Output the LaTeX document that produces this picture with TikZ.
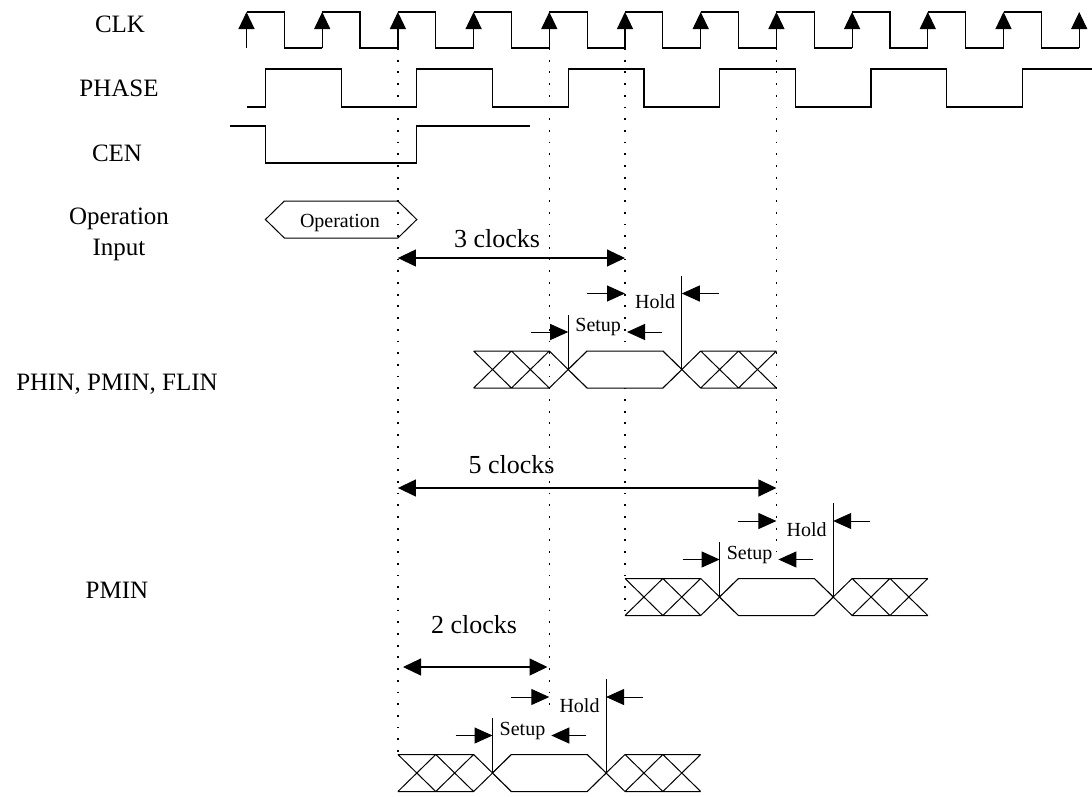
\documentclass[tikz,border=0pt]{standalone}
\usepackage{fontspec}
\setmainfont{Liberation Serif}
\usetikzlibrary{arrows.meta}
\tikzset{
  sig/.style={line width=1.2pt, line join=miter},
  busline/.style={line width=1pt, line join=miter},
  guide/.style={line width=1.4pt, dash pattern=on 1.8pt off 9.9pt},
  clkedge/.style={line width=1.2pt, -{Triangle[length=17pt 0 0,width=16pt 0 0]}},
  dimarrow/.style={line width=1.2pt, {Triangle[length=18pt 0 0,width=17pt 0 0]}-{Triangle[length=18pt 0 0,width=17pt 0 0]}},
  tharrow/.style={line width=1pt, -{Triangle[length=18pt 0 0,width=16pt 0 0]}},
  siglabel/.style={anchor=base, inner sep=0pt, font=\fontsize{25}{30}\selectfont},
  dimlabel/.style={anchor=base, inner sep=0pt, font=\fontsize{26}{31}\selectfont},
  smalllabel/.style={anchor=base west, inner sep=0pt, font=\fontsize{20}{24}\selectfont},
}
\newcommand\buswave[3]{%
  \begin{scope}[shift={(#1,#2)}]
    \draw[busline] (0,-18.5) -- (75.7,-18.5) (0,18.5) -- (75.7,18.5)
      (0,-18.5) -- (37.85,18.5) (0,18.5) -- (37.85,-18.5)
      (37.85,-18.5) -- (75.7,18.5) (37.85,18.5) -- (75.7,-18.5)
      (75.7,-18.5) -- (113.55,18.5) (75.7,18.5) -- (113.55,-18.5)
      (189.25,-18.5) -- (227.1,18.5) (189.25,18.5) -- (227.1,-18.5)
      (227.1,-18.5) -- (302.8,-18.5) (227.1,18.5) -- (302.8,18.5)
      (227.1,-18.5) -- (264.95,18.5) (227.1,18.5) -- (264.95,-18.5)
      (264.95,-18.5) -- (302.8,18.5) (264.95,18.5) -- (302.8,-18.5);
    \draw[busline, fill=white] (94.625,0) -- (113.55,-18.5) -- (189.25,-18.5)
      -- (208.175,0) -- (189.25,18.5) -- (113.55,18.5) -- cycle;
    \coordinate (#3su) at (94.625,0);
    \coordinate (#3ho) at (208.175,0);
    \draw[busline] (#3su) -- (94.625,-55);
    \draw[busline] (#3ho) -- (208.175,-94);
    \draw[tharrow] (113.4,-76) -- (151.4,-76);
    \draw[tharrow] (245.2,-76) -- (208.175,-76);
    \draw[tharrow] (57.6,-37.5) -- (94.625,-37.5);
    \draw[tharrow] (188.4,-37.5) -- (153.4,-37.5);
    \node[smalllabel] (#3hold) at (161.4,-61) {Hold};
    \node[smalllabel] (#3setup) at (101.6,-38) {Setup};
  \end{scope}%
}
\begin{document}
\begin{tikzpicture}[x=1pt, y=-1pt]
\useasboundingbox (0,0) rectangle (1092,796);

% labels
\node[siglabel] (lclk) at (120,32) {CLK};
\node[siglabel] (lphase) at (119,96.7) {PHASE};
\node[siglabel] (lcen) at (117,161.7) {CEN};
\node[siglabel] (lop) at (119,224) {Operation};
\node[siglabel] (linp) at (119,255.5) {Input};
\node[siglabel] (lphin) at (117,390) {PHIN, PMIN, FLIN};
\node[siglabel] (lpmin) at (117,598) {PMIN};

% guide lines
\draw[guide] (397.9,48) -- (397.9,754);
\draw[guide] (549.3,48) -- (549.3,712);
\draw[guide] (625.0,48) -- (625.0,616);
\draw[guide] (776.4,48) -- (776.4,552);

% CLK
\foreach \k in {0,...,10} {
  \pgfmathsetmacro\xa{246.5+75.7*\k}
  \pgfmathsetmacro\xb{\xa+37.85}
  \pgfmathsetmacro\xc{\xa+75.7}
  \draw[sig] (\xa,12) -- (\xb,12) -- (\xb,48) -- (\xc,48);
  \draw[clkedge] (\xa,48) -- (\xa,12);
}
\draw[clkedge] (1079.2,48) -- (1079.2,12);

% PHASE
\draw[sig] (247,107) -| (265.4,69) -| (341.1,107) -| (416.8,69) -| (492.5,107)
  -| (568.2,69) -| (643.9,107) -| (719.6,69) -| (795.3,107) -| (871.0,69)
  -| (946.7,107) -| (1022.4,69) -- (1092,69);

% CEN
\draw[sig] (230,126) -| (265.4,163) -| (416.8,126) -- (530,126);

% Operation input
\draw[busline] (265.4,219.5) -- (284.35,201) -- (397.9,201) -- (416.8,219.5)
  -- (397.9,238) -- (284.35,238) -- cycle;
\node[anchor=base, inner sep=0pt, font=\fontsize{20}{24}\selectfont] (opbox) at (340,227) {Operation};

% dimension arrows
\coordinate (d3a) at (397.9,258); \coordinate (d3b) at (625.0,258);
\draw[dimarrow] (d3a) -- (d3b);
\node[dimlabel] (l3) at (497,247) {3 clocks};
\coordinate (d5a) at (397.9,488); \coordinate (d5b) at (776.4,488);
\draw[dimarrow] (d5a) -- (d5b);
\node[dimlabel] (l5) at (511.5,473) {5 clocks};
\coordinate (d2a) at (403,667); \coordinate (d2b) at (547.5,667);
\draw[dimarrow] (d2a) -- (d2b);
\node[dimlabel] (l2) at (474,633) {2 clocks};

% buses
\buswave{473.6}{369.5}{ba}
\buswave{625.0}{597}{bb}
\buswave{397.9}{773}{bc}
\end{tikzpicture}
\end{document}
